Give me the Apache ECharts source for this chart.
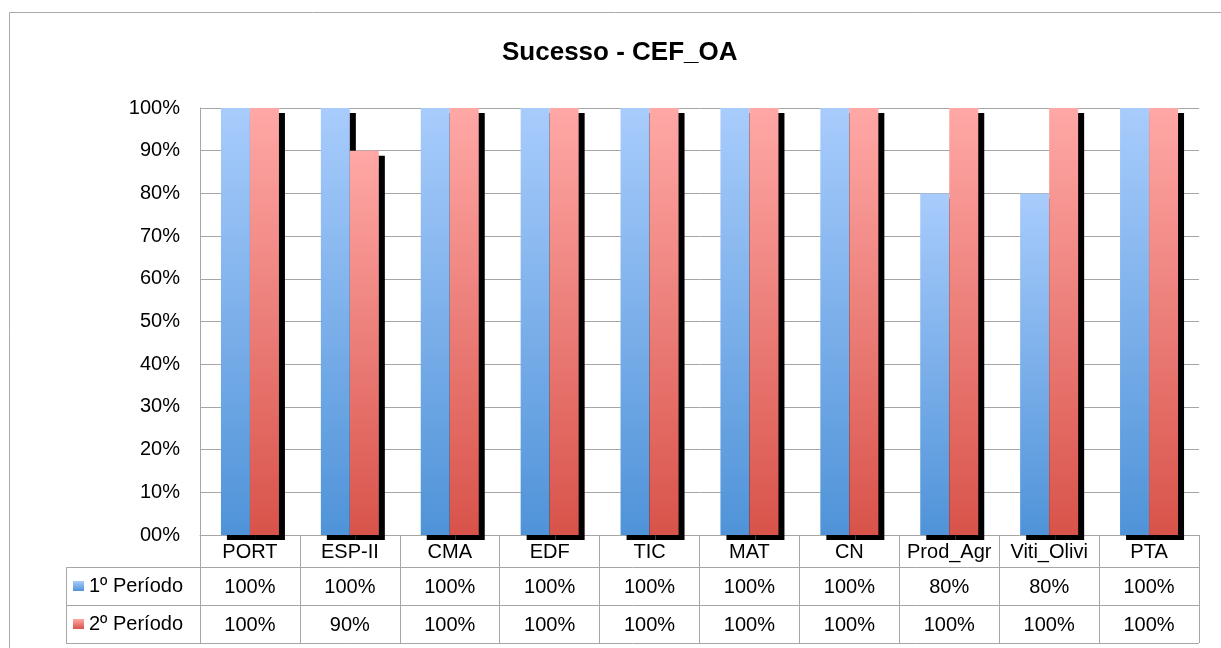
<!DOCTYPE html>
<html>
<head>
<meta charset="utf-8">
<script src="https://cdn.jsdelivr.net/npm/echarts@6/dist/echarts.min.js"></script>
<style>
  html, body { margin: 0; padding: 0; background: #fff; }
  #chart { width: 1221px; height: 648px; }
</style>
</head>
<body>
<div id="chart"></div>
<script>
// data
const categories = ['PORT', 'ESP-II', 'CMA', 'EDF', 'TIC', 'MAT', 'CN', 'Prod_Agr', 'Viti_Olivi', 'PTA']
const periodo1 = [100, 100, 100, 100, 100, 100, 100, 80, 80, 100]
const periodo2 = [100, 90, 100, 100, 100, 100, 100, 100, 100, 100]
const seriesNames = ['1º Período', '2º Período']

// layout
const FONT = 'Liberation Sans, Arial, sans-serif'
const GRID_LEFT = 200
const GRID_RIGHT = 1199
const GRID_TOP = 108
const GRID_BOTTOM = 535
const HEAD_H = 32
const ROW_H = 38
const TABLE_LEFT = 66
const LINE = '#a6a6a6'

const chart = echarts.init(document.getElementById('chart'))

function grad(top, bottom) {
  return new echarts.graphic.LinearGradient(0, 0, 0, 1, [
    { offset: 0, color: top },
    { offset: 1, color: bottom }
  ])
}

const row1 = GRID_BOTTOM + HEAD_H
const row2 = row1 + ROW_H
const row3 = row2 + ROW_H

const option = {
  animation: false,
  title: {
    text: 'Sucesso - CEF_OA',
    left: 502,
    top: 40,
    padding: 0,
    textStyle: { fontFamily: FONT, fontSize: 26, fontWeight: 'bold', color: '#000' }
  },
  legend: {
    orient: 'vertical',
    left: 73,
    top: row1 + 9,
    padding: 0,
    itemGap: 18,
    itemWidth: 11,
    itemHeight: 10,
    icon: 'rect',
    itemStyle: { shadowBlur: 0, shadowOffsetX: 0, shadowOffsetY: 0, shadowColor: 'transparent' },
    textStyle: { fontFamily: FONT, fontSize: 20, color: '#000', lineHeight: 20 },
    data: seriesNames
  },
  grid: {
    left: GRID_LEFT,
    right: 1221 - GRID_RIGHT,
    top: GRID_TOP,
    bottom: 648 - GRID_BOTTOM
  },
  xAxis: {
    type: 'category',
    data: categories,
    axisLine: { show: true, lineStyle: { color: LINE, width: 1 } },
    axisTick: { show: true, interval: 0, length: HEAD_H + ROW_H * 2, lineStyle: { color: LINE } },
    axisLabel: {
      interval: 0,
      margin: 1,
      hideOverlap: false,
      formatter: (value, idx) => '{c|' + value + '}\n{v|' + periodo1[idx] + '%}\n{v|' + periodo2[idx] + '%}',
      rich: {
        c: { fontFamily: FONT, fontSize: 20, color: '#000', lineHeight: HEAD_H, align: 'center' },
        v: { fontFamily: FONT, fontSize: 20, color: '#000', lineHeight: ROW_H, align: 'center' }
      }
    }
  },
  yAxis: {
    type: 'value',
    min: 0,
    max: 100,
    interval: 10,
    axisLine: { show: true, lineStyle: { color: LINE } },
    axisTick: { show: false },
    splitLine: { lineStyle: { color: LINE } },
    axisLabel: {
      margin: 20,
      fontFamily: FONT,
      fontSize: 20,
      color: '#000',
      padding: [5, 0, 0, 0],
      formatter: v => (v === 0 ? '00' : v) + '%'
    }
  },
  series: [
    {
      name: seriesNames[0],
      type: 'bar',
      data: periodo1,
      barWidth: 29,
      barGap: '0%',
      itemStyle: {
        color: grad('#a8ccfc', '#4f93d8'),
        shadowColor: '#000',
        shadowBlur: 0,
        shadowOffsetX: 6,
        shadowOffsetY: 5
      }
    },
    {
      name: seriesNames[1],
      type: 'bar',
      data: periodo2,
      barWidth: 29,
      barGap: '0%',
      itemStyle: {
        color: grad('#ffa8a6', '#d8534a'),
        shadowColor: '#000',
        shadowBlur: 0,
        shadowOffsetX: 6,
        shadowOffsetY: 5
      }
    }
  ],
  graphic: [
    // outer chart frame
    { type: 'rect', shape: { x: 9.5, y: 12.5, width: 1400, height: 800 }, style: { fill: 'none', stroke: '#aaaaaa', lineWidth: 1 }, silent: true },
    // data table horizontal lines
    { type: 'line', shape: { x1: TABLE_LEFT, y1: row1 + 0.5, x2: GRID_RIGHT, y2: row1 + 0.5 }, style: { stroke: LINE, lineWidth: 1 }, silent: true },
    { type: 'line', shape: { x1: TABLE_LEFT, y1: row2 + 0.5, x2: GRID_RIGHT, y2: row2 + 0.5 }, style: { stroke: LINE, lineWidth: 1 }, silent: true },
    { type: 'line', shape: { x1: TABLE_LEFT, y1: row3 + 0.5, x2: GRID_RIGHT, y2: row3 + 0.5 }, style: { stroke: LINE, lineWidth: 1 }, silent: true },
    { type: 'line', shape: { x1: TABLE_LEFT + 0.5, y1: row1, x2: TABLE_LEFT + 0.5, y2: row3 }, style: { stroke: LINE, lineWidth: 1 }, silent: true }
  ]
}

chart.setOption(option)
</script>
</body>
</html>
